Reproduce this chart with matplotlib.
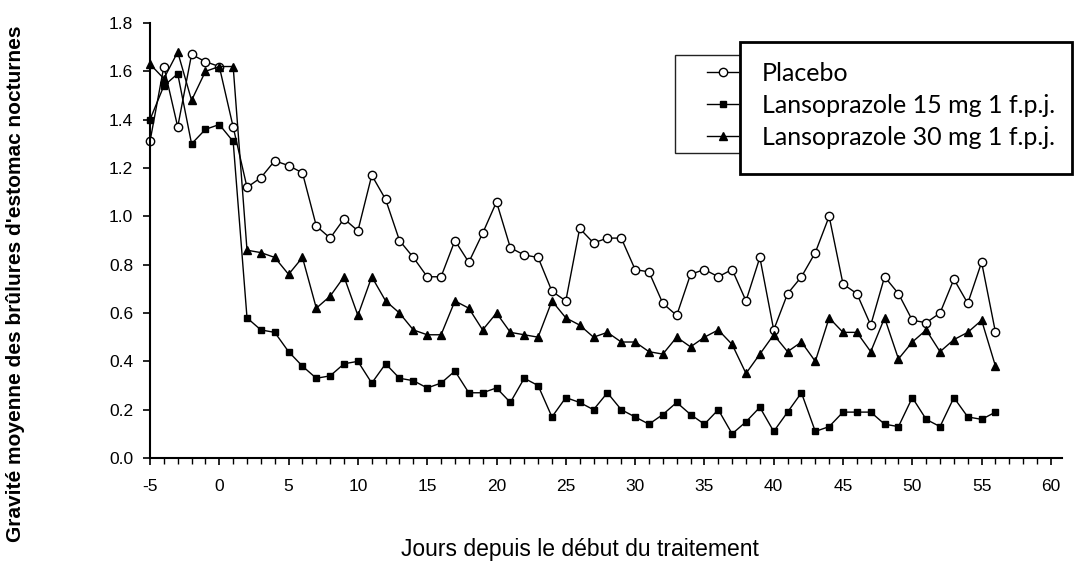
import matplotlib
matplotlib.use("Agg")
import matplotlib.pyplot as plt
from matplotlib.patches import Rectangle
from matplotlib.ticker import MultipleLocator, FormatStrFormatter

plt.rcParams["axes.unicode_minus"] = False

# jours -5 .. 56, une valeur par jour
jours = list(range(-5, 57))

placebo = [1.31, 1.62, 1.37, 1.67, 1.64, 1.62, 1.37,
           1.12, 1.16, 1.23, 1.21, 1.18, 0.96, 0.91, 0.99, 0.94, 1.17,
           1.07, 0.90, 0.83, 0.75, 0.75, 0.90, 0.81, 0.93, 1.06, 0.87,
           0.84, 0.83, 0.69, 0.65, 0.95, 0.89, 0.91, 0.91, 0.78, 0.77,
           0.64, 0.59, 0.76, 0.78, 0.75, 0.78, 0.65, 0.83, 0.53, 0.68,
           0.75, 0.85, 1.00, 0.72, 0.68, 0.55, 0.75, 0.68, 0.57, 0.56,
           0.60, 0.74, 0.64, 0.81, 0.52]

lanso_15 = [1.40, 1.54, 1.59, 1.30, 1.36, 1.38, 1.31,
            0.58, 0.53, 0.52, 0.44, 0.38, 0.33, 0.34, 0.39, 0.40, 0.31,
            0.39, 0.33, 0.32, 0.29, 0.31, 0.36, 0.27, 0.27, 0.29, 0.23,
            0.33, 0.30, 0.17, 0.25, 0.23, 0.20, 0.27, 0.20, 0.17, 0.14,
            0.18, 0.23, 0.18, 0.14, 0.20, 0.10, 0.15, 0.21, 0.11, 0.19,
            0.27, 0.11, 0.13, 0.19, 0.19, 0.19, 0.14, 0.13, 0.25, 0.16,
            0.13, 0.25, 0.17, 0.16, 0.19]

lanso_30 = [1.63, 1.57, 1.68, 1.48, 1.60, 1.62, 1.62,
            0.86, 0.85, 0.83, 0.76, 0.83, 0.62, 0.67, 0.75, 0.59, 0.75,
            0.65, 0.60, 0.53, 0.51, 0.51, 0.65, 0.62, 0.53, 0.60, 0.52,
            0.51, 0.50, 0.65, 0.58, 0.55, 0.50, 0.52, 0.48, 0.48, 0.44,
            0.43, 0.50, 0.46, 0.50, 0.53, 0.47, 0.35, 0.43, 0.51, 0.44,
            0.48, 0.40, 0.58, 0.52, 0.52, 0.44, 0.58, 0.41, 0.48, 0.53,
            0.44, 0.49, 0.52, 0.57, 0.38]

libelles = ["Placebo", "Lansoprazole 15 mg 1 f.p.j.", "Lansoprazole 30 mg 1 f.p.j."]

fig = plt.figure(figsize=(10.76, 5.67), dpi=100)
ax = fig.add_axes([0.1394, 0.1922, 0.8476, 0.7672])

l1, = ax.plot(jours, placebo, color="black", lw=1.0, marker="o", ms=6,
              mfc="white", mec="black", mew=1.0, clip_on=False)
l2, = ax.plot(jours, lanso_15, color="black", lw=1.0, marker="s", ms=5, clip_on=False)
l3, = ax.plot(jours, lanso_30, color="black", lw=1.0, marker="^", ms=6, clip_on=False)

ax.set_xlim(-5, 60.8)
ax.set_ylim(0, 1.8)
ax.xaxis.set_major_locator(MultipleLocator(5))
ax.xaxis.set_minor_locator(MultipleLocator(1))
ax.yaxis.set_major_locator(MultipleLocator(0.2))
ax.yaxis.set_major_formatter(FormatStrFormatter("%.1f"))

for s in ["top", "right"]:
    ax.spines[s].set_visible(False)
for s in ["left", "bottom"]:
    ax.spines[s].set_linewidth(1.5)

ax.tick_params(direction="out", length=5, width=1.2, labelsize=12.5)
ax.tick_params(axis="x", pad=10)
ax.tick_params(axis="y", pad=7)
ax.tick_params(axis="x", which="minor", length=4, width=1)
for lab in ax.get_xticklabels() + ax.get_yticklabels():
    lab.set_family("Liberation Sans")

ax.set_xlabel("Jours depuis le début du traitement", fontsize=16.5, family="Liberation Sans")
ax.xaxis.set_label_coords(0.4715, -0.185)

fig.text(0.014, 0.5, "Gravité moyenne des brûlures d'estomac nocturnes", rotation=90,
         ha="center", va="center", fontsize=15, fontweight="bold", family="Liberation Sans")

# ancien cadre de légende + boîte blanche par-dessus
ax.add_patch(Rectangle((0.6273, 0.7302), 0.0604, 0.1728, transform=fig.transFigure,
                       fill=False, lw=1, ec="#222222", clip_on=False, zorder=3))
ax.add_patch(Rectangle((0.6877, 0.6931), 0.3086, 0.2328, transform=fig.transFigure,
                       fc="white", ec="black", lw=2, clip_on=False, zorder=4))

leg = ax.legend([l1, l2, l3], libelles, loc="upper left",
                bbox_to_anchor=(707 / 1076, 1 - 62 / 567), bbox_transform=fig.transFigure,
                frameon=False, borderpad=0, borderaxespad=0, handlelength=1.25,
                handletextpad=0.95, labelspacing=0.36, prop={"family": "Lato", "size": 18})
leg.set_zorder(5)

fig.savefig("out.png", dpi=100)
